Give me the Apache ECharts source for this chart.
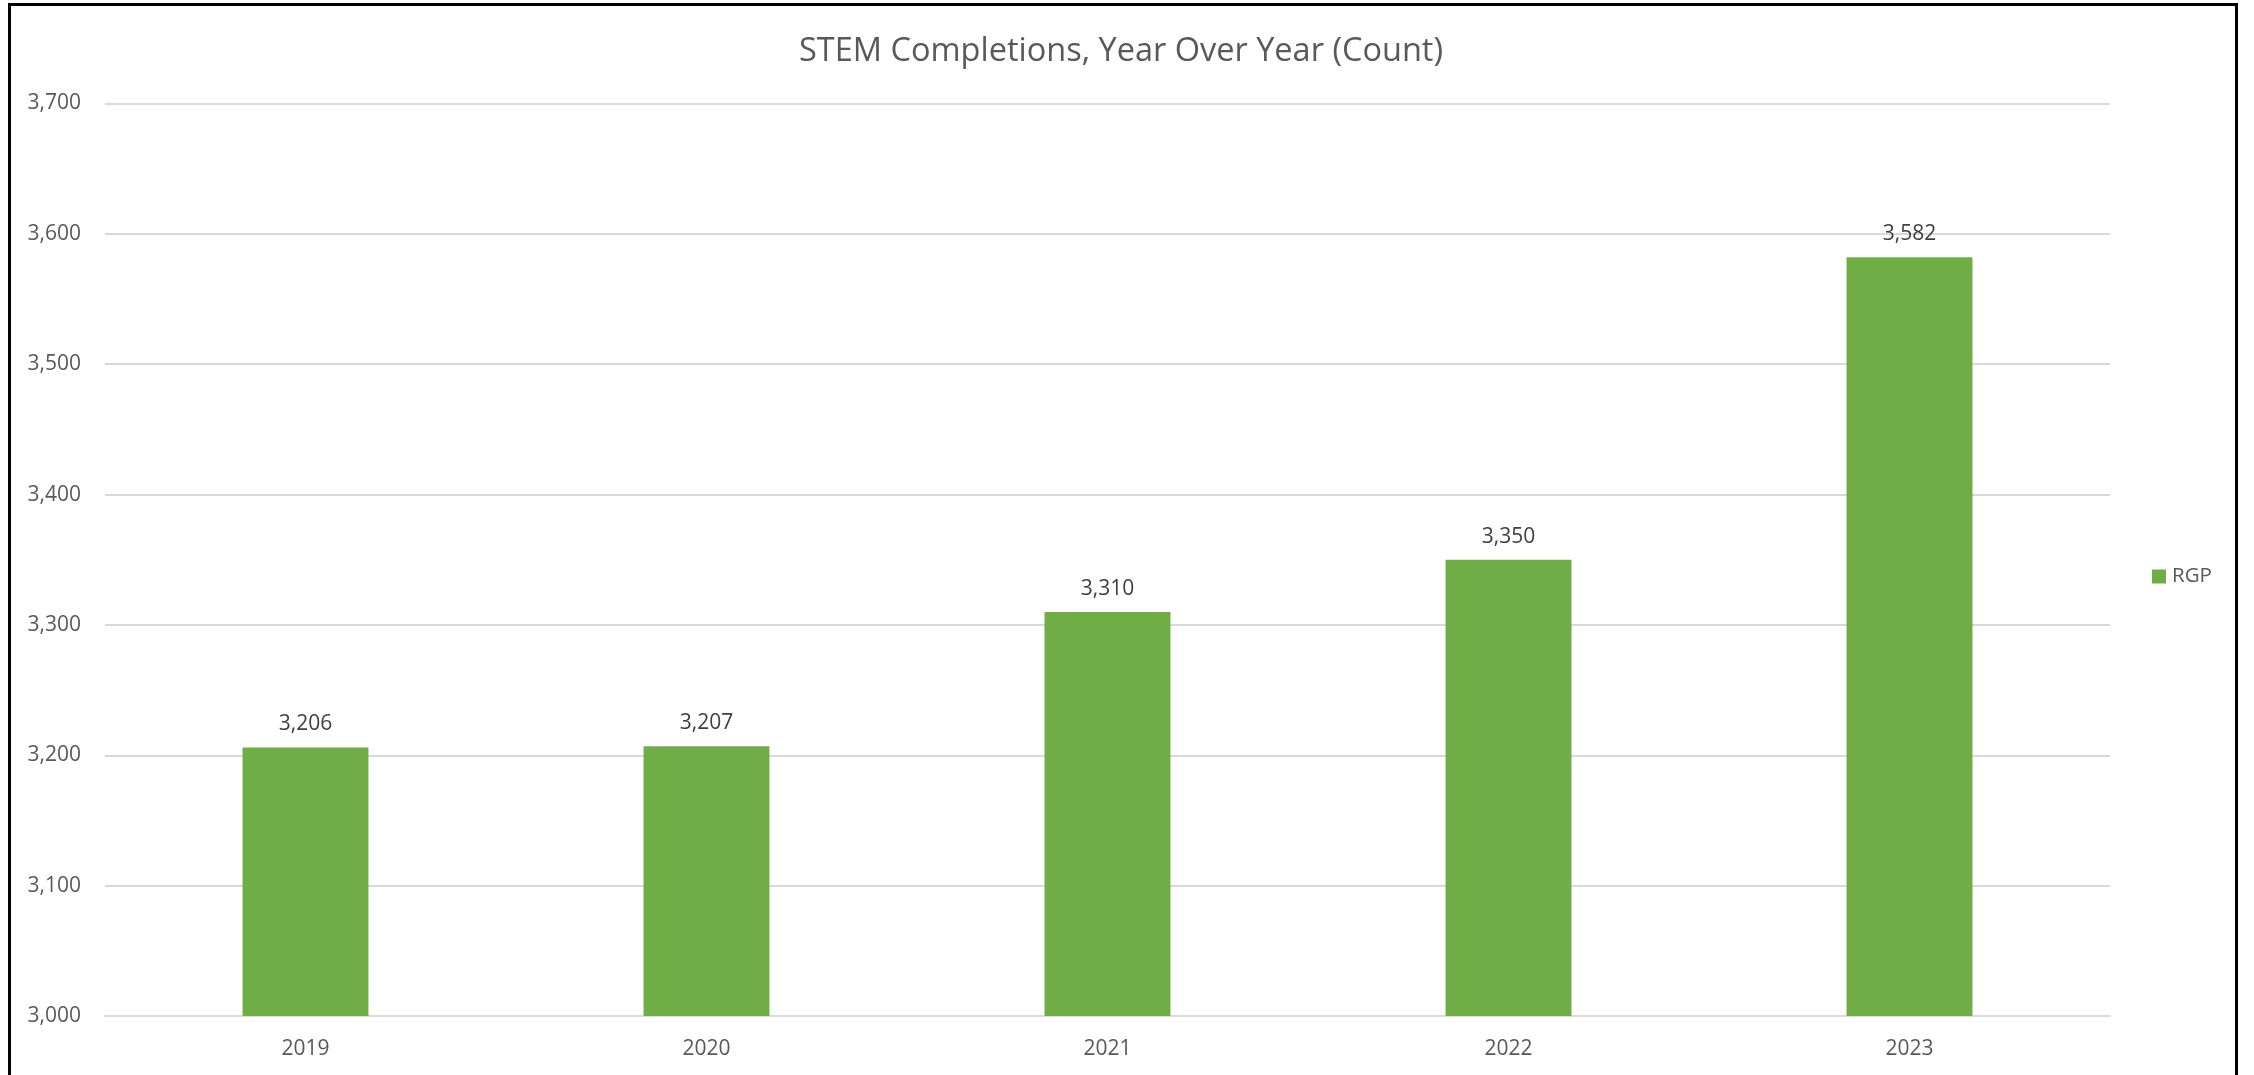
<!DOCTYPE html>
<html>
<head>
<meta charset="utf-8">
<script src="https://cdn.jsdelivr.net/npm/echarts@6/dist/echarts.min.js"></script>
<style>
  html, body { margin: 0; padding: 0; background: #fff; }
  #frame { position: absolute; left: 8px; top: 3px; width: 2224px; height: 1200px;
           border: 3px solid #000; border-bottom: none; box-sizing: content-box; }
  #chart { position: absolute; left: 0; top: 0; width: 2254px; height: 1075px; }
</style>
</head>
<body>
<div id="frame"></div>
<div id="chart"></div>
<script>
const categories = ['2019', '2020', '2021', '2022', '2023'];
const rgpValues = [3206, 3207, 3310, 3350, 3582];
const seriesName = 'RGP';
const titleText = 'STEM Completions, Year Over Year (Count)';

const fmt = v => Number(v).toLocaleString('en-US');
const FONT = '"Open Sans", sans-serif';

const chart = echarts.init(document.getElementById('chart'), null, { renderer: 'canvas' });
chart.setOption({
  backgroundColor: 'transparent',
  animation: false,
  title: {
    text: titleText,
    left: 1121, top: 32, textAlign: 'center', padding: 0,
    textStyle: { fontFamily: FONT, fontSize: 32.5, fontWeight: 'normal', color: '#595959', lineHeight: 40 }
  },
  legend: {
    orient: 'vertical',
    left: 2152, top: 566, padding: 0,
    itemWidth: 14, itemHeight: 14,
    icon: 'rect',
    itemGap: 6,
    textStyle: { fontFamily: FONT, fontSize: 20.5, color: '#595959', padding: [0, 0, 0, 1] },
    data: [seriesName]
  },
  grid: { left: 105, right: 144, top: 103.5, bottom: 59, containLabel: false },
  xAxis: {
    type: 'category',
    data: categories,
    axisLine: { show: true, lineStyle: { color: '#D9D9D9', width: 2 } },
    axisTick: { show: false },
    axisLabel: { fontFamily: FONT, fontSize: 21, color: '#595959', margin: 21, lineHeight: 24 }
  },
  yAxis: {
    type: 'value',
    min: 3000, max: 3700, interval: 100,
    axisLine: { show: false },
    axisTick: { show: false },
    splitLine: { lineStyle: { color: '#D9D9D9', width: 2 } },
    axisLabel: { fontFamily: FONT, fontSize: 21, color: '#595959', margin: 24, formatter: fmt }
  },
  series: [{
    name: seriesName,
    type: 'bar',
    data: rgpValues,
    barWidth: '31.4%',
    itemStyle: { color: '#70AD47' },
    label: {
      show: true, position: 'top', distance: 11,
      fontFamily: FONT, fontSize: 21, color: '#404040', lineHeight: 24,
      formatter: p => fmt(p.value)
    }
  }]
});
</script>
</body>
</html>
